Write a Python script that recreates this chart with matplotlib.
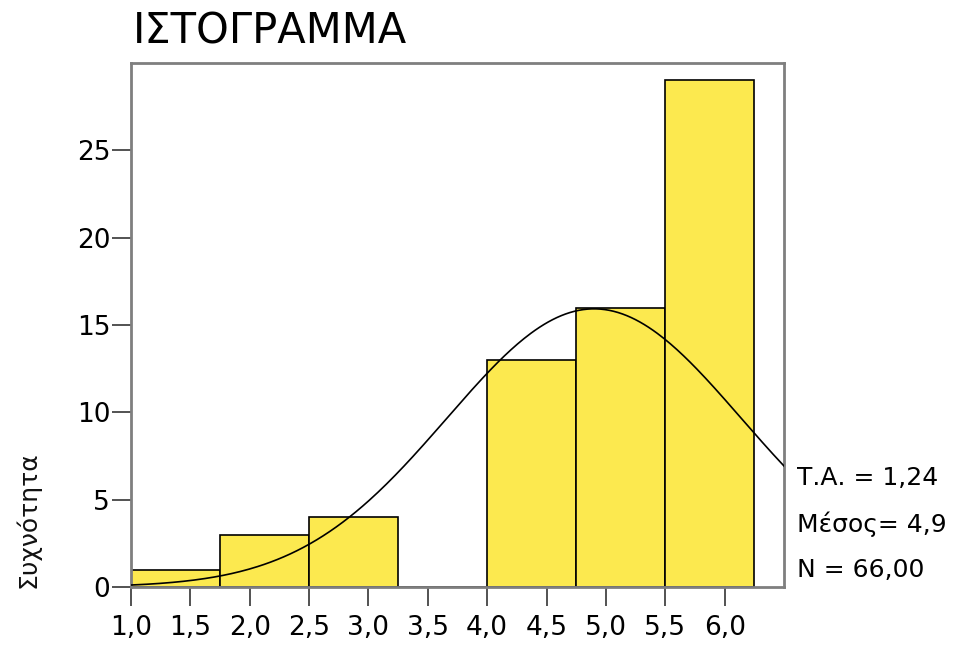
import numpy as np
import matplotlib
matplotlib.use("Agg")
import matplotlib.pyplot as plt

# data
bin_edges = [1.0, 1.75, 2.5, 3.25, 4.0, 4.75, 5.5, 6.25]
counts = [1, 3, 4, 0, 13, 16, 29]
x_ticks = [1.0, 1.5, 2.0, 2.5, 3.0, 3.5, 4.0, 4.5, 5.0, 5.5, 6.0]
y_ticks = [0, 5, 10, 15, 20, 25]
sd = 1.24
mean = 4.9
n_obs = 66

plt.rcParams["font.family"] = ["DejaVu Sans"]

fig = plt.figure(figsize=(9.57, 6.45), dpi=100)
ax = fig.add_axes([131 / 957, 1 - 587 / 645, (784 - 131) / 957, (587 - 63) / 645])

widths = np.diff(bin_edges)
ax.bar(bin_edges[:-1], counts, width=widths, align="edge",
       color="#fce94f", edgecolor="black", linewidth=1.2, zorder=2)

# normal curve from the stats
bw = widths[0]
xs = np.linspace(1.0, 6.5, 300)
ys = n_obs * bw / (sd * np.sqrt(2 * np.pi)) * np.exp(-0.5 * ((xs - mean) / sd) ** 2)
ax.plot(xs, ys, color="black", linewidth=1.2, zorder=3)

ax.set_xlim(1.0, 6.5)
ax.set_ylim(0, 30)
ax.set_xticks(x_ticks)
ax.set_xticklabels([f"{v:.1f}".replace(".", ",") for v in x_ticks])
ax.set_yticks(y_ticks)
ax.tick_params(axis="both", direction="out", length=14, width=1.3, color="#444444",
               labelsize=19, pad=1)
ax.tick_params(axis="x", pad=6)

for s in ax.spines.values():
    s.set_color("#7f7f7f")
    s.set_linewidth(2)

fig.text(133 / 957, 1 - 32 / 645, "ΙΣΤΟΓΡΑΜΜΑ", fontsize=30, va="center", ha="left")
fig.text(28 / 957, 1 - 588 / 645, "Συχνότητα", fontsize=18, rotation=90,
         ha="center", va="bottom", color="#111111")

stats = ["Τ.Α. = " + f"{sd:.2f}".replace(".", ","),
         "Μέσος= " + f"{mean:.1f}".replace(".", ","),
         "N = " + f"{n_obs:.2f}".replace(".", ",")]
for i, t in enumerate(stats):
    fig.text(797 / 957, 1 - (478 + 46 * i) / 645, t, fontsize=18, va="center", ha="left")

fig.savefig("out.png", dpi=100)
